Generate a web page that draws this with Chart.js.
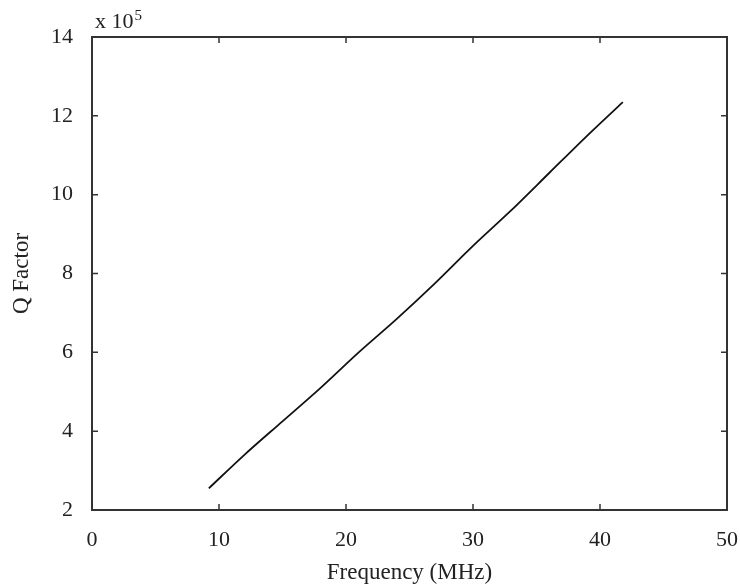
<!DOCTYPE html>
<html>
<head>
<meta charset="utf-8">
<script src="https://cdn.jsdelivr.net/npm/chart.js@4/dist/chart.umd.min.js"></script>
<style>
  body { margin: 0; background: #fff; }
</style>
</head>
<body>
<canvas id="qChart" width="740" height="587"></canvas>
<script>
// frequency in MHz, Q factor in units of 1e5
const freq = [9.2, 12, 15, 18, 21, 24, 27, 30, 33, 36, 39, 41.8];
const qFactor = [2.55, 3.4, 4.25, 5.1, 6.0, 6.85, 7.75, 8.7, 9.6, 10.55, 11.5, 12.35];
const xRange = [0, 50, 10];
const yRange = [2, 14, 2];

const fontFam = '"Liberation Serif", "Times New Roman", serif';

// box around plot + inward ticks on all four sides, and the exponent label
const frame = {
  id: 'frame',
  afterDatasetsDraw(chart) {
    const { ctx, chartArea: a, scales: { x, y } } = chart;
    ctx.save();
    ctx.strokeStyle = '#333';
    ctx.lineWidth = 1.5;
    const len = 6;
    x.ticks.forEach(t => {
      const px = x.getPixelForValue(t.value);
      ctx.beginPath();
      ctx.moveTo(px, a.bottom); ctx.lineTo(px, a.bottom - len);
      ctx.moveTo(px, a.top); ctx.lineTo(px, a.top + len);
      ctx.stroke();
    });
    y.ticks.forEach(t => {
      const py = y.getPixelForValue(t.value);
      ctx.beginPath();
      ctx.moveTo(a.left, py); ctx.lineTo(a.left + len, py);
      ctx.moveTo(a.right, py); ctx.lineTo(a.right - len, py);
      ctx.stroke();
    });
    ctx.lineWidth = 2;
    ctx.strokeRect(a.left, a.top, a.right - a.left, a.bottom - a.top);

    ctx.fillStyle = '#222';
    ctx.textBaseline = 'alphabetic';
    ctx.font = '22px ' + fontFam;
    ctx.fillText('x 10', a.left + 3, a.top - 9);
    const w = ctx.measureText('x 10').width;
    ctx.font = '15px ' + fontFam;
    ctx.fillText('5', a.left + 4 + w, a.top - 17);
    ctx.restore();
  }
};

new Chart(document.getElementById('qChart'), {
  type: 'line',
  data: {
    datasets: [{
      data: freq.map((f, i) => ({ x: f, y: qFactor[i] })),
      borderColor: '#111',
      borderWidth: 1.8,
      pointRadius: 0,
      tension: 0.3,
      fill: false
    }]
  },
  options: {
    responsive: false,
    animation: false,
    devicePixelRatio: 1,
    layout: { padding: { top: 37, right: 13, left: 0, bottom: 0 } },
    plugins: { legend: { display: false }, tooltip: { enabled: false } },
    scales: {
      x: {
        type: 'linear',
        min: xRange[0], max: xRange[1],
        grid: { display: false },
        border: { display: false },
        ticks: { stepSize: xRange[2], padding: 9, color: '#222', font: { family: fontFam, size: 22 } },
        title: { display: true, text: 'Frequency (MHz)', color: '#222', padding: { top: 0, bottom: 0 }, font: { family: fontFam, size: 23 } },
        afterFit(scale) { scale.height = 77; scale.paddingRight = 0; scale.paddingLeft = 0; }
      },
      y: {
        type: 'linear',
        min: yRange[0], max: yRange[1],
        grid: { display: false },
        border: { display: false },
        ticks: { stepSize: yRange[2], padding: 11, color: '#222', font: { family: fontFam, size: 22 } },
        title: { display: true, text: 'Q Factor', color: '#222', padding: { top: 8, bottom: 0 }, font: { family: fontFam, size: 23 } },
        afterFit(scale) { scale.width = 92; }
      }
    }
  },
  plugins: [frame]
});
</script>
</body>
</html>
